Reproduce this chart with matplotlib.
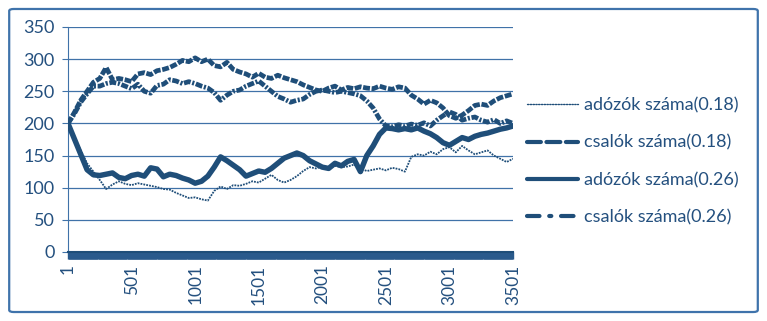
import matplotlib
matplotlib.use("Agg")
import matplotlib.pyplot as plt
import numpy as np
from matplotlib.lines import Line2D
from matplotlib.patches import FancyBboxPatch

# lépések (minden 50. lépés, 1..3501)
lepes = list(range(1, 3502, 50))

adozok_018 = [200, 178, 158, 138, 125, 112, 98, 105, 110, 106,
              104, 107, 105, 103, 101, 98, 97, 92, 88, 84,
              85, 82, 80, 95, 102, 98, 104, 103, 106, 110,
              108, 114, 120, 112, 108, 112, 118, 126, 132, 130,
              133, 131, 134, 132, 133, 136, 130, 126, 128, 130,
              127, 131, 129, 125, 148, 152, 150, 156, 152, 160,
              163, 155, 165, 158, 152, 155, 158, 150, 145, 140, 145]

csalok_018 = [200, 217, 236, 250, 264, 270, 287, 268, 270, 268,
              265, 277, 279, 276, 282, 284, 287, 292, 298, 296,
              302, 296, 300, 290, 288, 295, 284, 280, 277, 272,
              278, 272, 270, 275, 271, 268, 265, 260, 256, 252,
              250, 255, 258, 252, 256, 254, 257, 255, 254, 258,
              255, 253, 257, 255, 244, 238, 230, 236, 232, 224,
              212, 208, 213, 220, 228, 230, 228, 235, 240, 243, 246]

adozok_026 = [200, 176, 152, 128, 120, 119, 121, 123, 116, 114,
              119, 121, 118, 131, 129, 117, 121, 119, 115, 112,
              107, 110, 118, 132, 148, 142, 135, 128, 118, 122,
              126, 124, 130, 138, 146, 150, 154, 150, 142, 137,
              132, 130, 138, 134, 141, 144, 125, 150, 165, 183,
              193, 192, 190, 192, 190, 193, 188, 184, 178, 170,
              166, 172, 178, 175, 180, 183, 185, 188, 191, 193, 196]

csalok_026 = [200, 215, 233, 246, 258, 258, 262, 264, 262, 258,
              254, 261, 250, 247, 259, 261, 268, 266, 262, 265,
              262, 258, 255, 248, 236, 244, 250, 252, 258, 262,
              266, 258, 250, 242, 238, 233, 236, 238, 245, 250,
              252, 250, 248, 250, 248, 246, 243, 235, 224, 207,
              196, 195, 198, 196, 199, 197, 201, 196, 205, 212,
              218, 214, 205, 208, 210, 205, 202, 206, 200, 204, 200]

cimkek = ["adózók száma(0.18)", "csalók száma(0.18)",
          "adózók száma(0.26)", "csalók száma(0.26)"]

KEK = "#1f4e79"
SZOVEG = "#24507f"
RACS = "#4072a8"

plt.rcParams["font.family"] = ["Lato", "DejaVu Sans"]
plt.rcParams["lines.scale_dashes"] = False

fig = plt.figure(figsize=(7.67, 3.21), dpi=100)
fig.patches.append(FancyBboxPatch((0.012, 0.028), 0.976, 0.944,
                                  boxstyle="round,pad=0,rounding_size=0.006",
                                  transform=fig.transFigure, fill=False,
                                  edgecolor="#3f73ab", linewidth=1.6))

ax = fig.add_axes([68 / 767, 1 - 252 / 321, 445 / 767, 225 / 321])

ax.plot(lepes, adozok_018, color=KEK, lw=1.3, ls=(0, (1.3, 0.8)), zorder=3)
ax.plot(lepes, csalok_018, color=KEK, lw=3.4, ls=(0, (5, 1.2)), zorder=3)
ax.plot(lepes, adozok_026, color=KEK, lw=3.9, zorder=3)
ax.plot(lepes, csalok_026, color=KEK, lw=3.4, ls=(0, (5, 1.2, 1.5, 1.2)), zorder=3)

ax.set_xlim(1, 3501)
ax.set_ylim(0, 350)
ax.set_yticks(range(0, 351, 50))
ax.set_xticks(range(1, 3502, 500))
# kategória-osztásjelek: sűrűn, ezért összefüggő sávnak látszanak
ax.set_xticks(range(1, 3502, 4), minor=True)
ax.grid(axis="y", color=RACS, lw=0.9)
ax.set_axisbelow(True)

for s in ("top", "right"):
    ax.spines[s].set_visible(False)
ax.spines["left"].set_color(RACS)
ax.spines["bottom"].set_color(KEK)
ax.spines["bottom"].set_linewidth(1.5)

ax.tick_params(axis="y", colors=SZOVEG, labelsize=13, length=4.5, color=RACS, pad=5)
ax.tick_params(axis="x", which="both", direction="out", length=5, width=1.0,
               color="#2a5a8c")
ax.tick_params(axis="x", which="major", labelsize=12.5, labelcolor=SZOVEG,
               labelrotation=90, pad=4)

stilusok = [dict(lw=1.0, ls=(0, (1, 1))),
            dict(lw=3.0, ls=(0, (10, 4))),
            dict(lw=3.0, ls="-"),
            dict(lw=3.0, ls=(0, (9, 7, 1.5, 7)))]
fogok = [Line2D([], [], color=KEK, solid_capstyle="round", dash_capstyle="round", **st)
         for st in stilusok]
fig.legend(fogok, cimkek, loc="center left", bbox_to_anchor=(527 / 767, 1 - 161.5 / 321),
           frameon=False, fontsize=13, labelcolor=SZOVEG, handlelength=2.85,
           handletextpad=0.3, labelspacing=1.18, borderpad=0, borderaxespad=0)

fig.savefig("out.png", dpi=100)
